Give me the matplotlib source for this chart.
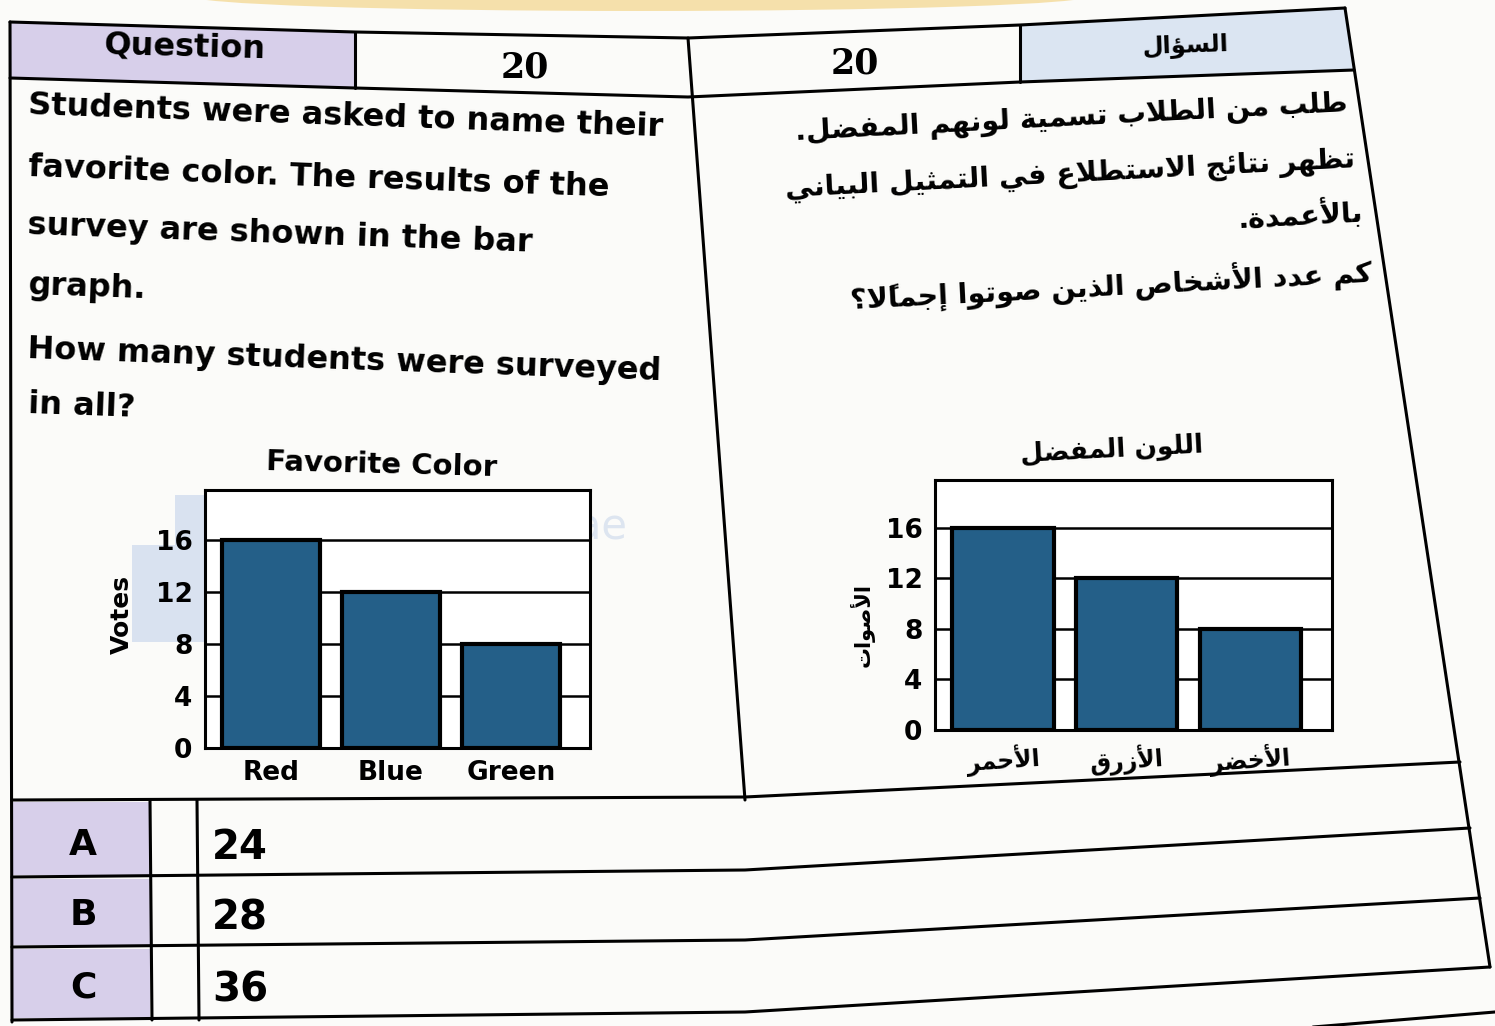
import matplotlib
matplotlib.use("Agg")
import matplotlib.pyplot as plt
from matplotlib.patches import Polygon, Ellipse, Rectangle

# ---------------- data ----------------
categories_en = ["Red", "Blue", "Green"]
categories_ar = ["الأحمر", "الأزرق", "الأخضر"]
votes = [16, 12, 8]
y_ticks = [0, 4, 8, 12, 16]
answer_letters = ["A", "B", "C"]
answer_values = ["24", "28", "36"]
question_number = "20"

title_en = "Favorite Color"
ylabel_en = "Votes"
title_ar = "اللون المفضل"
ylabel_ar = "الأصوات"
header_en = "Question"
header_ar = "السؤال"
lines_en = ["Students were asked to name their",
            "favorite color. The results of the",
            "survey are shown in the bar",
            "graph.",
            "How many students were surveyed",
            "in all?"]
lines_ar = ["طلب من الطلاب تسمية لونهم المفضل.",
            "تظهر نتائج الاستطلاع في التمثيل البياني",
            "بالأعمدة.",
            "كم عدد الأشخاص الذين صوتوا إجمالاً؟"]

# ------------- minimal Arabic shaping (presentation forms + RTL) -------------
_TABLE = [("ء", 0xFE80, "U"), ("آ", 0xFE81, "R"), ("أ", 0xFE83, "R"), ("ؤ", 0xFE85, "R"),
          ("إ", 0xFE87, "R"), ("ئ", 0xFE89, "D"), ("ا", 0xFE8D, "R"), ("ب", 0xFE8F, "D"),
          ("ة", 0xFE93, "R"), ("ت", 0xFE95, "D"), ("ث", 0xFE99, "D"), ("ج", 0xFE9D, "D"),
          ("ح", 0xFEA1, "D"), ("خ", 0xFEA5, "D"), ("د", 0xFEA9, "R"), ("ذ", 0xFEAB, "R"),
          ("ر", 0xFEAD, "R"), ("ز", 0xFEAF, "R"), ("س", 0xFEB1, "D"), ("ش", 0xFEB5, "D"),
          ("ص", 0xFEB9, "D"), ("ض", 0xFEBD, "D"), ("ط", 0xFEC1, "D"), ("ظ", 0xFEC5, "D"),
          ("ع", 0xFEC9, "D"), ("غ", 0xFECD, "D"), ("ف", 0xFED1, "D"), ("ق", 0xFED5, "D"),
          ("ك", 0xFED9, "D"), ("ل", 0xFEDD, "D"), ("م", 0xFEE1, "D"), ("ن", 0xFEE5, "D"),
          ("ه", 0xFEE9, "D"), ("و", 0xFEED, "R"), ("ى", 0xFEEF, "R"), ("ي", 0xFEF1, "D")]
FORMS = {}
for ch, base, kind in _TABLE:
    if kind == "D":
        FORMS[ch] = (base, base + 1, base + 2, base + 3)
    elif kind == "R":
        FORMS[ch] = (base, base + 1, None, None)
    else:
        FORMS[ch] = (base, None, None, None)
LAMALEF = {"آ": 0xFEF5, "أ": 0xFEF7, "إ": 0xFEF9, "ا": 0xFEFB}
MARKS = set(chr(c) for c in range(0x064B, 0x0653))


def ar(text):
    items = []
    i = 0
    while i < len(text):
        c = text[i]
        if c in MARKS and items:
            items[-1][2].append(c)
            i += 1
            continue
        if c == "ل" and i + 1 < len(text) and text[i + 1] in LAMALEF:
            items.append(["LA", text[i + 1], []])
            i += 2
            continue
        items.append(["C", c, []])
        i += 1

    def joins_next(it):
        return it[0] == "C" and it[1] in FORMS and FORMS[it[1]][2] is not None

    def joinable(it):
        return it[0] == "LA" or it[1] in FORMS

    out = []
    for k, it in enumerate(items):
        prev = items[k - 1] if k > 0 else None
        nxt = items[k + 1] if k + 1 < len(items) else None
        jp = prev is not None and joins_next(prev) and joinable(it)
        jn = nxt is not None and joins_next(it) and joinable(nxt)
        if it[0] == "LA":
            g = chr(LAMALEF[it[1]] + (1 if jp else 0))
        elif it[1] in FORMS:
            iso, fin, ini, med = FORMS[it[1]]
            if jp and jn:
                g = med
            elif jp:
                g = fin
            elif jn:
                g = ini
            else:
                g = iso
            g = chr(g)
        else:
            g = it[1]
        out.append(g + "".join(it[2]))
    return "".join(reversed(out))


# ---------------- figure ----------------
W, H = 1495, 1026
fig = plt.figure(figsize=(W / 100, H / 100), dpi=100, facecolor="#fbfbf9")
bg = fig.add_axes([0, 0, 1, 1])
bg.set_xlim(0, W)
bg.set_ylim(H, 0)
bg.axis("off")


def rect(l, t, r, b):
    return [l / W, 1 - b / H, (r - l) / W, (b - t) / H]


LAV = "#d7cfea"
LBLUE = "#dbe5f2"
BAR = "#245f88"
EN_FONT = "DejaVu Sans"
AR_FONT = "DejaVu Sans"

# yellow glow at the top edge
bg.add_patch(Ellipse((640, -4), 900, 30, color="#f2cf78", alpha=0.6, lw=0))

# header fills
bg.add_patch(Polygon([(10, 22), (355, 32), (355, 88), (10, 78)], color=LAV, lw=0))
bg.add_patch(Polygon([(1020, 25), (1345, 8), (1354, 70), (1020, 82)], color=LBLUE, lw=0))
# answer letter fills
row_bounds = [(800, 877), (877, 947), (947, 1020)]
for (t, b) in row_bounds:
    bg.add_patch(Polygon([(12, t + 2), (150, t + 2), (150, b - 2), (12, b - 2)], color=LAV, lw=0))

# watermark blocks
bg.add_patch(Rectangle((175, 495), 83, 50, color="#d9e2f0", lw=0))
bg.add_patch(Rectangle((132, 545), 126, 97, color="#d9e2f0", lw=0))
bg.text(268, 527, "almanahj.com/ae", fontsize=30, color="#dde5f0", va="center",
        ha="left", family="DejaVu Sans")

LW = 2.2


def pline(pts, lw=LW):
    xs, ys = zip(*pts)
    bg.plot(xs, ys, color="black", lw=lw, solid_capstyle="round")


pline([(10, 22), (355, 32), (688, 38), (1020, 25), (1345, 8)])
pline([(10, 78), (355, 88), (688, 97), (1020, 82), (1354, 70)])
pline([(10, 22), (12, 1022)])
pline([(355, 32), (355, 88)])
pline([(688, 38), (745, 800)])
pline([(1020, 25), (1020, 82)])
pline([(1345, 8), (1490, 967)])
pline([(12, 800), (745, 797), (1460, 762)])
pline([(12, 877), (745, 870), (1470, 828)])
pline([(12, 947), (745, 940), (1480, 898)])
pline([(12, 1020), (745, 1012), (1490, 967)])
pline([(1313, 1027), (1495, 1012)])
pline([(150, 800), (152, 1020)])
pline([(197, 800), (199, 1020)])

# header texts
bg.text(185, 47, header_en, fontsize=23, weight="bold", family=EN_FONT, ha="center", va="center", rotation=-1.5)
bg.text(525, 68, question_number, fontsize=25, weight="bold", family="DejaVu Serif", ha="center", va="center")
bg.text(855, 63, question_number, fontsize=25, weight="bold", family="DejaVu Serif", ha="center", va="center")
bg.text(1185, 45, ar(header_ar), fontsize=17.5, weight="bold", family=AR_FONT, ha="center", va="center", rotation=2)

# English paragraph
en_y = [106, 168, 226, 286, 350, 405]
for s, y in zip(lines_en, en_y):
    bg.text(28, y, s, fontsize=23, weight="bold", family=EN_FONT, ha="left", va="center",
            rotation=-2, rotation_mode="anchor")

# Arabic paragraph
ar_pos = [(1348, 104), (1355, 160), (1362, 212), (1372, 272)]
for s, (x, y) in zip(lines_ar, ar_pos):
    bg.text(x, y, ar(s), fontsize=20.5, weight="bold", family=AR_FONT, ha="right", va="center",
            rotation=3, rotation_mode="anchor")

# answers
ans_y = [845, 915, 987]
for L, v, y in zip(answer_letters, answer_values, ans_y):
    bg.text(83, y, L, fontsize=26, weight="bold", family=EN_FONT, ha="center", va="center")
    bg.text(212, y + 3, v, fontsize=29, weight="bold", family=EN_FONT, ha="left", va="center")


# ---------------- bar charts ----------------
def bar_chart(r, cats, label_family, tick_rot=0, cat_size=19):
    ax = fig.add_axes(r)
    ax.set_facecolor("white")
    x = list(range(len(cats)))
    for yv in y_ticks[1:]:
        ax.axhline(yv, color="black", lw=1.8, zorder=1)
    ax.bar(x, votes, width=0.82, color=BAR, edgecolor="black", linewidth=3, zorder=3)
    ax.set_xlim(-0.55, 2.66)
    ax.set_ylim(0, 19.8)
    ax.set_yticks(y_ticks)
    ax.set_yticklabels([str(t) for t in y_ticks], fontsize=19, weight="bold", family=EN_FONT)
    ax.set_xticks(x)
    ax.set_xticklabels(cats, fontsize=cat_size, weight="bold", family=label_family, rotation=tick_rot)
    ax.tick_params(length=0, pad=9)
    for sp in ax.spines.values():
        sp.set_linewidth(2.2)
        sp.set_color("black")
    return ax


ax1 = bar_chart(rect(205, 490, 590, 748), categories_en, EN_FONT)
ax2 = bar_chart(rect(935, 480, 1332, 730), [ar(c) for c in categories_ar], AR_FONT, tick_rot=4, cat_size=17)

bg.text(382, 465, title_en, fontsize=21, weight="bold", family=EN_FONT, ha="center", va="center", rotation=-1.5)
bg.text(122, 615, ylabel_en, fontsize=18, weight="bold", family=EN_FONT, ha="center", va="center", rotation=90)
bg.text(1112, 450, ar(title_ar), fontsize=19, weight="bold", family=AR_FONT, ha="center", va="center", rotation=3)
bg.text(862, 625, ar(ylabel_ar), fontsize=15, weight="bold", family=AR_FONT, ha="center", va="center", rotation=90)

fig.savefig("out.png", dpi=100, facecolor=fig.get_facecolor())
